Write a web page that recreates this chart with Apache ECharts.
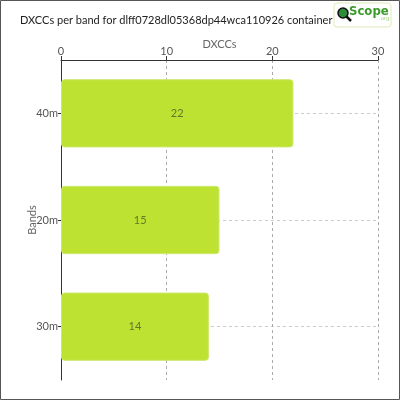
<!DOCTYPE html>
<html><head><meta charset="utf-8">
<script src="https://cdn.jsdelivr.net/npm/echarts@6/dist/echarts.min.js"></script>
<style>html,body{margin:0;padding:0;background:#fff}#c{width:400px;height:400px}</style>
</head><body><div id="c"></div>
<script>
const title = 'DXCCs per band for dlff0728dl05368dp44wca110926 container';
const categories = ['40m', '20m', '30m'];
const values = [22, 15, 14];
const xTicks = [0, 10, 20, 30];

const chart = echarts.init(document.getElementById('c'));
const font = 'Lato';
chart.setOption({
  animation: false,
  textStyle: { fontFamily: font },
  title: { text: title, left: 15, top: 10, textStyle: { fontSize: 11, fontWeight: 'normal', color: '#222', fontFamily: font } },
  grid: { left: 61, right: 22, top: 60, bottom: 20 },
  xAxis: {
    type: 'value', position: 'top', min: xTicks[0], max: xTicks[xTicks.length - 1], interval: 10,
    name: 'DXCCs', nameLocation: 'middle', nameGap: 10, nameMoveOverlap: false,
    nameTextStyle: { color: '#666', fontSize: 11 },
    axisLine: { show: true, lineStyle: { color: '#333' } },
    axisTick: { show: true, length: 4, lineStyle: { color: '#333' } },
    axisLabel: { color: '#555', fontSize: 11, margin: 3 },
    splitLine: { show: true, lineStyle: { type: [3, 3], color: '#aaa' } }
  },
  yAxis: {
    type: 'category', data: categories, inverse: true,
    name: 'Bands', nameLocation: 'middle', nameGap: 23, nameMoveOverlap: false,
    nameTextStyle: { color: '#666', fontSize: 11 },
    axisLine: { show: true, lineStyle: { color: '#333' } },
    axisTick: { show: true, alignWithLabel: true, length: 3, lineStyle: { color: '#333' } },
    axisLabel: { color: '#555', fontSize: 11, margin: 3 },
    splitLine: { show: true, alignWithLabel: true, lineStyle: { type: [3, 3], color: '#ccc' } }
  },
  series: [{
    type: 'bar', data: values, barWidth: '64%',
    itemStyle: { color: '#bee232', borderColor: '#cde870', borderWidth: 1, borderRadius: 3 },
    label: { show: true, position: 'inside', color: '#5d7a2a', fontSize: 11 }
  }],
  graphic: [
    { type: 'rect', shape: { x: 0.5, y: 0.5, width: 399, height: 399 }, style: { fill: 'none', stroke: '#555', lineWidth: 1 }, silent: true },
    { type: 'rect', shape: { x: 334, y: 3, width: 57, height: 24, r: 3 }, style: { fill: '#fff', stroke: '#dfe9bb', lineWidth: 1 } },
    { type: 'circle', shape: { cx: 343, cy: 13, r: 5 }, style: { fill: '#2e8b3a', stroke: '#111', lineWidth: 1.5 } },
    { type: 'line', shape: { x1: 346.5, y1: 16.5, x2: 351, y2: 21 }, style: { stroke: '#111', lineWidth: 2.5 } },
    { type: 'text', left: 349, top: 5, style: { text: 'Scope', fill: '#3b9a2a', font: 'bold 13px "DejaVu Sans Condensed", sans-serif' } },
    { type: 'text', left: 379, top: 15, style: { text: '.org', fill: '#a8d48a', font: '6px sans-serif' } }
  ]
});
</script></body></html>
